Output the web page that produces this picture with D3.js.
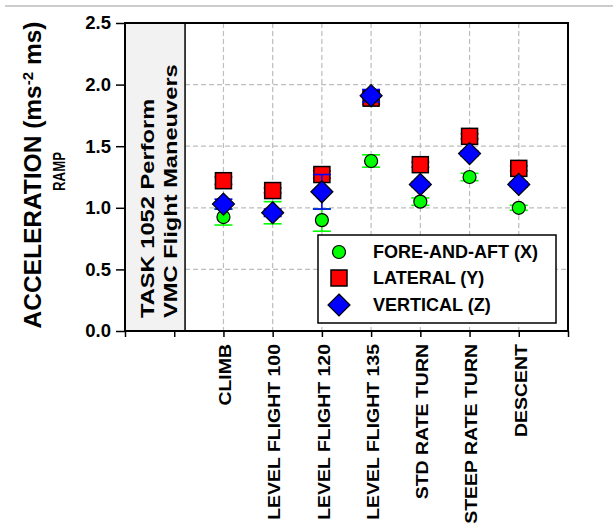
<!DOCTYPE html>
<html><head><meta charset="utf-8">
<script src="https://cdn.jsdelivr.net/npm/d3@7"></script>
<style>
html,body{margin:0;padding:0;background:#fff;}
svg text{font-family:"Liberation Sans",Arial,sans-serif;font-weight:bold;fill:#000;}
</style></head>
<body>
<svg id="c" width="613" height="526"></svg>
<script>
// ---- data ----
const categories = ["CLIMB","LEVEL FLIGHT 100","LEVEL FLIGHT 120","LEVEL FLIGHT 135","STD RATE TURN","STEEP RATE TURN","DESCENT"];
const catIndex = [2,3,4,5,6,7,8];
const foreAft  = [0.925, 0.96, 0.90, 1.38, 1.05, 1.25, 1.00];
const lateral  = [1.22, 1.14, 1.27, 1.89, 1.35, 1.58, 1.32];
const vertical = [1.03, 0.96, 1.13, 1.91, 1.19, 1.44, 1.19];
const errFore  = [0.065, 0.09, 0.09, 0.05, 0.03, 0.03, 0.02];
const errLat   = [0.03, 0.02, 0.03, 0.05, 0.02, 0.02, 0.02];
const errVert  = [0.04, 0.03, 0.14, 0.05, 0.02, 0.02, 0.02];
const yTicks = [0.0, 0.5, 1.0, 1.5, 2.0, 2.5];
const gridY = [0.5, 1.0, 1.5, 2.0];
const seriesNames = ["FORE-AND-AFT (X)", "LATERAL (Y)", "VERTICAL (Z)"];
const rampLabel = "RAMP";
const panelLines = ["TASK 1052 Perform", "VMC Flight Maneuvers"];

// ---- layout ----
const L = 125, R = 568, T = 23, B = 331;
const svg = d3.select("#c");
const x = d3.scaleLinear().domain([0, 9]).range([L, R]);
const y = d3.scaleLinear().domain([0, 2.5]).range([B, T]);
const panelEdge = 1.22;

// top gray rule
svg.append("line").attr("x1",5).attr("x2",613).attr("y1",6).attr("y2",6)
  .attr("stroke","#cccccc").attr("stroke-width",2);

// panel
svg.append("rect").attr("x",L).attr("y",T).attr("width",x(panelEdge)-L).attr("height",B-T)
  .attr("fill","#f2f2f2");

// grid
const g = svg.append("g");
g.selectAll(".gy").data(gridY).join("line")
  .attr("x1",x(panelEdge)).attr("x2",R).attr("y1",d=>y(d)).attr("y2",d=>y(d))
  .attr("stroke","#bdbdbd").attr("stroke-width",1.2).attr("stroke-dasharray","5,3");
g.selectAll(".gx").data(catIndex).join("line")
  .attr("x1",d=>x(d)).attr("x2",d=>x(d)).attr("y1",T).attr("y2",B)
  .attr("stroke","#bdbdbd").attr("stroke-width",1.2).attr("stroke-dasharray","5,3");

svg.append("line").attr("x1",x(panelEdge)).attr("x2",x(panelEdge)).attr("y1",T).attr("y2",B)
  .attr("stroke","#000").attr("stroke-width",1.5);

// axes
const yAxis = d3.axisLeft(y).tickValues(yTicks).tickFormat(d3.format(".1f")).tickSize(9).tickPadding(5);
const ya = svg.append("g").attr("transform",`translate(${L},0)`).call(yAxis);
ya.select(".domain").remove();
ya.selectAll("line").attr("stroke","#000").attr("stroke-width",1.5);
ya.selectAll("text").style("font-size","18.5px").attr("fill","#000");

const xAxis = d3.axisBottom(x).tickValues(d3.range(0,10)).tickFormat("").tickSize(6);
const xa = svg.append("g").attr("transform",`translate(0,${B})`).call(xAxis);
xa.select(".domain").remove();
xa.selectAll("line").attr("stroke","#000").attr("stroke-width",1.5);

// frame
svg.append("rect").attr("x",L).attr("y",T).attr("width",R-L).attr("height",B-T)
  .attr("fill","none").attr("stroke","#000").attr("stroke-width",2);

// category labels
svg.selectAll(".cat").data(categories).join("text")
  .attr("transform",(d,i)=>`translate(${x(catIndex[i])+2},344) rotate(-90) scale(1.18,1)`)
  .attr("text-anchor","end").attr("dy","0.35em")
  .style("font-size","16.5px").text(d=>d);

// y title
const yt = svg.append("text")
  .attr("transform","translate(32,175) rotate(-90)")
  .attr("text-anchor","middle").attr("dy","0.35em").style("font-size","24.5px");
yt.append("tspan").text("ACCELERATION (ms");
yt.append("tspan").attr("baseline-shift","super").style("font-size","15px").text("-2");
yt.append("tspan").text(" ms)");

// RAMP label
svg.append("text").attr("transform","translate(59,171.5) rotate(-90) scale(0.8,1)")
  .attr("text-anchor","middle").attr("dy","0.35em").style("font-size","16.5px").text(rampLabel);

// panel text
const panelX = [148, 171];
svg.selectAll(".pt").data(panelLines).join("text")
  .attr("transform",(d,i)=>`translate(${panelX[i]},318) rotate(-90) scale(1.28,1)`)
  .attr("text-anchor","start").attr("dy","0.35em").style("font-size","18.5px").text(d=>d);

// ---- marks ----
const capW = 9;
function errBars(vals, errs, color){
  const eg = svg.append("g").attr("stroke",color).attr("stroke-width",1.6);
  vals.forEach((v,i)=>{
    const cx = x(catIndex[i]);
    eg.append("line").attr("x1",cx).attr("x2",cx).attr("y1",y(v-errs[i])).attr("y2",y(v+errs[i]));
    eg.append("line").attr("x1",cx-capW).attr("x2",cx+capW).attr("y1",y(v-errs[i])).attr("y2",y(v-errs[i]));
    eg.append("line").attr("x1",cx-capW).attr("x2",cx+capW).attr("y1",y(v+errs[i])).attr("y2",y(v+errs[i]));
  });
}
const sqSize = 16, dmR = 11, cR = 6.5;
function circle(sel){ return sel.append("circle").attr("r",cR).attr("fill","#00ff00").attr("stroke","#000").attr("stroke-width",1.2); }
function square(sel){ return sel.append("rect").attr("x",-sqSize/2).attr("y",-sqSize/2).attr("width",sqSize).attr("height",sqSize)
  .attr("fill","#ff0000").attr("stroke","#000").attr("stroke-width",1.5); }
function diamond(sel){ return sel.append("path").attr("d",`M0,${-dmR}L${dmR},0L0,${dmR}L${-dmR},0Z`)
  .attr("fill","#0000ff").attr("stroke","#000").attr("stroke-width",1.2); }

errBars(foreAft, errFore, "#00ff00");
foreAft.forEach((v,i)=>circle(svg.append("g").attr("transform",`translate(${x(catIndex[i])},${y(v)})`)));
errBars(lateral, errLat, "#ff0000");
lateral.forEach((v,i)=>square(svg.append("g").attr("transform",`translate(${x(catIndex[i])},${y(v)})`)));
errBars(vertical, errVert, "#0000ff");
vertical.forEach((v,i)=>diamond(svg.append("g").attr("transform",`translate(${x(catIndex[i])},${y(v)})`)));

// legend
const lg = svg.append("g");
lg.append("rect").attr("x",318).attr("y",235).attr("width",238).attr("height",88)
  .attr("fill","#fff").attr("stroke","#000").attr("stroke-width",1.5);
const rowsY = [252, 278, 305];
const makers = [circle, square, diamond];
seriesNames.forEach((n,i)=>{
  makers[i](lg.append("g").attr("transform",`translate(339,${rowsY[i]})`));
  lg.append("text").attr("x",373).attr("y",rowsY[i]).attr("dy","0.36em").style("font-size","18px").text(n);
});
</script>
</body></html>
